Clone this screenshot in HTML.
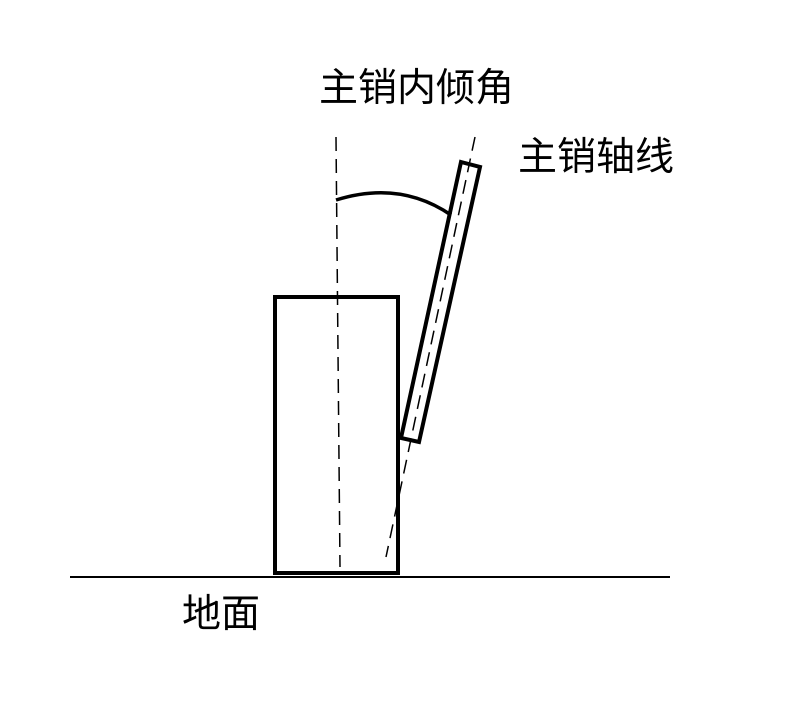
<!DOCTYPE html>
<html><head><meta charset="utf-8"><style>
body{margin:0;background:#fff;width:800px;height:720px;overflow:hidden}
svg text{font-family:"Liberation Sans","Noto Sans CJK SC",sans-serif;font-size:39px;fill:#000}
</style></head><body>
<svg width="800" height="720" xmlns="http://www.w3.org/2000/svg">
<line x1="70" y1="577" x2="670" y2="577" stroke="#000" stroke-width="2"/>
<rect x="275" y="297" width="123" height="276" fill="none" stroke="#000" stroke-width="4"/>
<line x1="336" y1="137" x2="340" y2="567" stroke="#000" stroke-width="1.5" stroke-dasharray="14,8"/>
<polygon points="461,162 480,167 419,442 401,438" fill="#fff" stroke="#000" stroke-width="4"/>
<line x1="475" y1="137" x2="386" y2="557" stroke="#000" stroke-width="1.5" stroke-dasharray="14,8"/>
<path d="M336,200 Q400,180 451,215" fill="none" stroke="#000" stroke-width="3.5"/>
<text x="319" y="101">主销内倾角</text>
<text x="518" y="170">主销轴线</text>
<text x="182" y="627">地面</text>
</svg>
</body></html>
